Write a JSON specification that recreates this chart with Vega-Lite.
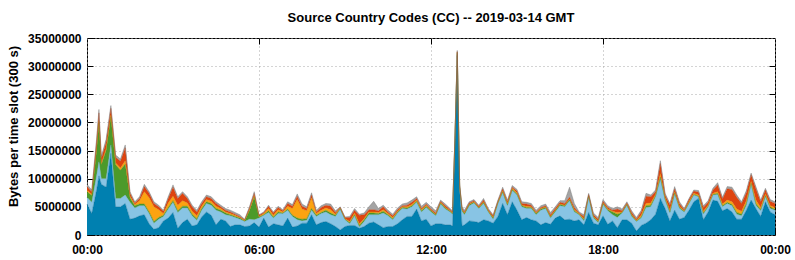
{
"$schema":"https://vega.github.io/schema/vega-lite/v6.json",
"width":688,"height":197,
"autosize":{"type":"none"},
"padding":{"left":87,"top":38,"right":20,"bottom":25},
"background":"white",
"title":{"text":"Source Country Codes (CC) -- 2019-03-14 GMT","font":"Liberation Sans","fontSize":13,"fontWeight":"bold","color":"black","anchor":"middle","offset":7},
"config":{"view":{"stroke":"black","strokeWidth":1},"axis":{"labelFont":"Liberation Sans","labelFontSize":12,"labelFontWeight":"bold","labelColor":"black","titleFont":"Liberation Sans","titleFontSize":13,"titleFontWeight":"bold","titleColor":"black","tickColor":"black","domain":false}},
"data":{"values":[
{"t":"2019-03-14T00:00","cc6":5500000,"cc5":1200000,"cc4":1000000,"cc3":300000,"cc2":600000,"cc1":400000},
{"t":"2019-03-14T00:10","cc6":3800000,"cc5":2000000,"cc4":1200000,"cc3":200000,"cc2":500000,"cc1":300000},
{"t":"2019-03-14T00:20","cc6":8000000,"cc5":2500000,"cc4":4500000,"cc3":300000,"cc2":1200000,"cc1":500000},
{"t":"2019-03-14T00:25","cc6":10500000,"cc5":2500000,"cc4":7000000,"cc3":300000,"cc2":1400000,"cc1":600000},
{"t":"2019-03-14T00:30","cc6":9000000,"cc5":1000000,"cc4":2500000,"cc3":200000,"cc2":900000,"cc1":400000},
{"t":"2019-03-14T00:40","cc6":8500000,"cc5":1500000,"cc4":5000000,"cc3":300000,"cc2":1200000,"cc1":500000},
{"t":"2019-03-14T00:50","cc6":14500000,"cc5":1500000,"cc4":5000000,"cc3":300000,"cc2":1200000,"cc1":500000},
{"t":"2019-03-14T01:00","cc6":5000000,"cc5":1500000,"cc4":6000000,"cc3":300000,"cc2":1000000,"cc1":400000},
{"t":"2019-03-14T01:10","cc6":5000000,"cc5":1500000,"cc4":5000000,"cc3":400000,"cc2":1200000,"cc1":400000},
{"t":"2019-03-14T01:20","cc6":5600000,"cc5":1500000,"cc4":5500000,"cc3":600000,"cc2":2300000,"cc1":500000},
{"t":"2019-03-14T01:30","cc6":2800000,"cc5":3000000,"cc4":800000,"cc3":300000,"cc2":500000,"cc1":300000},
{"t":"2019-03-14T01:40","cc6":3000000,"cc5":1800000,"cc4":400000,"cc3":200000,"cc2":300000,"cc1":200000},
{"t":"2019-03-14T01:50","cc6":3400000,"cc5":1800000,"cc4":300000,"cc3":600000,"cc2":400000,"cc1":300000},
{"t":"2019-03-14T02:00","cc6":3600000,"cc5":1600000,"cc4":300000,"cc3":2200000,"cc2":900000,"cc1":400000},
{"t":"2019-03-14T02:10","cc6":2000000,"cc5":1800000,"cc4":300000,"cc3":2500000,"cc2":800000,"cc1":300000},
{"t":"2019-03-14T02:20","cc6":1000000,"cc5":1100000,"cc4":300000,"cc3":2600000,"cc2":600000,"cc1":300000},
{"t":"2019-03-14T02:30","cc6":1300000,"cc5":1500000,"cc4":300000,"cc3":1400000,"cc2":500000,"cc1":300000},
{"t":"2019-03-14T02:40","cc6":2500000,"cc5":800000,"cc4":200000,"cc3":300000,"cc2":400000,"cc1":200000},
{"t":"2019-03-14T02:50","cc6":3000000,"cc5":1600000,"cc4":300000,"cc3":800000,"cc2":800000,"cc1":300000},
{"t":"2019-03-14T03:00","cc6":4000000,"cc5":1800000,"cc4":300000,"cc3":800000,"cc2":1600000,"cc1":400000},
{"t":"2019-03-14T03:10","cc6":1200000,"cc5":2800000,"cc4":300000,"cc3":1000000,"cc2":1200000,"cc1":300000},
{"t":"2019-03-14T03:20","cc6":2200000,"cc5":2600000,"cc4":300000,"cc3":1000000,"cc2":1300000,"cc1":300000},
{"t":"2019-03-14T03:30","cc6":2800000,"cc5":2000000,"cc4":300000,"cc3":600000,"cc2":800000,"cc1":300000},
{"t":"2019-03-14T03:40","cc6":1600000,"cc5":1800000,"cc4":300000,"cc3":500000,"cc2":800000,"cc1":300000},
{"t":"2019-03-14T03:50","cc6":1800000,"cc5":800000,"cc4":300000,"cc3":500000,"cc2":700000,"cc1":300000},
{"t":"2019-03-14T04:00","cc6":3200000,"cc5":1200000,"cc4":300000,"cc3":400000,"cc2":500000,"cc1":300000},
{"t":"2019-03-14T04:10","cc6":4100000,"cc5":1500000,"cc4":300000,"cc3":400000,"cc2":500000,"cc1":300000},
{"t":"2019-03-14T04:20","cc6":3500000,"cc5":1800000,"cc4":300000,"cc3":400000,"cc2":500000,"cc1":300000},
{"t":"2019-03-14T04:30","cc6":1800000,"cc5":2600000,"cc4":300000,"cc3":400000,"cc2":500000,"cc1":300000},
{"t":"2019-03-14T04:40","cc6":2800000,"cc5":1300000,"cc4":300000,"cc3":300000,"cc2":300000,"cc1":300000},
{"t":"2019-03-14T04:50","cc6":2500000,"cc5":1100000,"cc4":300000,"cc3":200000,"cc2":300000,"cc1":300000},
{"t":"2019-03-14T05:00","cc6":1500000,"cc5":1900000,"cc4":200000,"cc3":200000,"cc2":300000,"cc1":300000},
{"t":"2019-03-14T05:10","cc6":1800000,"cc5":1300000,"cc4":200000,"cc3":200000,"cc2":200000,"cc1":300000},
{"t":"2019-03-14T05:20","cc6":1800000,"cc5":1000000,"cc4":200000,"cc3":100000,"cc2":200000,"cc1":300000},
{"t":"2019-03-14T05:30","cc6":1500000,"cc5":900000,"cc4":100000,"cc3":100000,"cc2":100000,"cc1":100000},
{"t":"2019-03-14T05:40","cc6":1600000,"cc5":1200000,"cc4":1500000,"cc3":200000,"cc2":300000,"cc1":200000},
{"t":"2019-03-14T05:50","cc6":2200000,"cc5":500000,"cc4":4000000,"cc3":300000,"cc2":400000,"cc1":300000},
{"t":"2019-03-14T06:00","cc6":1400000,"cc5":1600000,"cc4":200000,"cc3":100000,"cc2":200000,"cc1":100000},
{"t":"2019-03-14T06:10","cc6":3000000,"cc5":500000,"cc4":100000,"cc3":200000,"cc2":200000,"cc1":100000},
{"t":"2019-03-14T06:20","cc6":1400000,"cc5":2600000,"cc4":300000,"cc3":400000,"cc2":400000,"cc1":200000},
{"t":"2019-03-14T06:30","cc6":2000000,"cc5":1000000,"cc4":200000,"cc3":300000,"cc2":400000,"cc1":200000},
{"t":"2019-03-14T06:40","cc6":1800000,"cc5":2000000,"cc4":300000,"cc3":400000,"cc2":400000,"cc1":200000},
{"t":"2019-03-14T06:50","cc6":1600000,"cc5":2200000,"cc4":100000,"cc3":200000,"cc2":200000,"cc1":200000},
{"t":"2019-03-14T07:00","cc6":3000000,"cc5":1400000,"cc4":200000,"cc3":500000,"cc2":500000,"cc1":300000},
{"t":"2019-03-14T07:10","cc6":1400000,"cc5":1900000,"cc4":200000,"cc3":1200000,"cc2":400000,"cc1":300000},
{"t":"2019-03-14T07:20","cc6":1600000,"cc5":1100000,"cc4":300000,"cc3":3300000,"cc2":600000,"cc1":400000},
{"t":"2019-03-14T07:30","cc6":2100000,"cc5":400000,"cc4":300000,"cc3":1800000,"cc2":500000,"cc1":400000},
{"t":"2019-03-14T07:40","cc6":2100000,"cc5":500000,"cc4":300000,"cc3":1400000,"cc2":400000,"cc1":300000},
{"t":"2019-03-14T07:50","cc6":3600000,"cc5":800000,"cc4":300000,"cc3":1900000,"cc2":500000,"cc1":400000},
{"t":"2019-03-14T08:00","cc6":1800000,"cc5":1500000,"cc4":200000,"cc3":300000,"cc2":300000,"cc1":300000},
{"t":"2019-03-14T08:10","cc6":2200000,"cc5":1600000,"cc4":200000,"cc3":400000,"cc2":500000,"cc1":300000},
{"t":"2019-03-14T08:20","cc6":2400000,"cc5":1700000,"cc4":300000,"cc3":400000,"cc2":500000,"cc1":300000},
{"t":"2019-03-14T08:30","cc6":2000000,"cc5":1600000,"cc4":300000,"cc3":600000,"cc2":600000,"cc1":400000},
{"t":"2019-03-14T08:40","cc6":1500000,"cc5":1800000,"cc4":200000,"cc3":200000,"cc2":300000,"cc1":300000},
{"t":"2019-03-14T08:50","cc6":900000,"cc5":3700000,"cc4":100000,"cc3":100000,"cc2":100000,"cc1":100000},
{"t":"2019-03-14T09:00","cc6":1500000,"cc5":1200000,"cc4":100000,"cc3":100000,"cc2":200000,"cc1":100000},
{"t":"2019-03-14T09:10","cc6":1700000,"cc5":300000,"cc4":200000,"cc3":200000,"cc2":700000,"cc1":200000},
{"t":"2019-03-14T09:20","cc6":1700000,"cc5":1700000,"cc4":200000,"cc3":300000,"cc2":500000,"cc1":300000},
{"t":"2019-03-14T09:30","cc6":1200000,"cc5":200000,"cc4":300000,"cc3":300000,"cc2":1500000,"cc1":200000},
{"t":"2019-03-14T09:40","cc6":1500000,"cc5":900000,"cc4":300000,"cc3":200000,"cc2":700000,"cc1":300000},
{"t":"2019-03-14T09:50","cc6":2100000,"cc5":1500000,"cc4":300000,"cc3":200000,"cc2":400000,"cc1":500000},
{"t":"2019-03-14T10:00","cc6":2300000,"cc5":1300000,"cc4":300000,"cc3":200000,"cc2":400000,"cc1":1500000},
{"t":"2019-03-14T10:10","cc6":1800000,"cc5":1800000,"cc4":200000,"cc3":200000,"cc2":300000,"cc1":400000},
{"t":"2019-03-14T10:20","cc6":1300000,"cc5":2600000,"cc4":300000,"cc3":300000,"cc2":500000,"cc1":300000},
{"t":"2019-03-14T10:30","cc6":1500000,"cc5":1900000,"cc4":200000,"cc3":200000,"cc2":300000,"cc1":300000},
{"t":"2019-03-14T10:40","cc6":1500000,"cc5":1200000,"cc4":200000,"cc3":200000,"cc2":300000,"cc1":300000},
{"t":"2019-03-14T10:50","cc6":2000000,"cc5":1900000,"cc4":200000,"cc3":100000,"cc2":300000,"cc1":300000},
{"t":"2019-03-14T11:00","cc6":2700000,"cc5":2000000,"cc4":200000,"cc3":100000,"cc2":200000,"cc1":300000},
{"t":"2019-03-14T11:10","cc6":3300000,"cc5":1300000,"cc4":200000,"cc3":200000,"cc2":300000,"cc1":400000},
{"t":"2019-03-14T11:20","cc6":3300000,"cc5":1700000,"cc4":200000,"cc3":200000,"cc2":400000,"cc1":400000},
{"t":"2019-03-14T11:30","cc6":4600000,"cc5":1200000,"cc4":200000,"cc3":200000,"cc2":300000,"cc1":300000},
{"t":"2019-03-14T11:40","cc6":2500000,"cc5":1600000,"cc4":200000,"cc3":200000,"cc2":200000,"cc1":400000},
{"t":"2019-03-14T11:50","cc6":2800000,"cc5":2100000,"cc4":200000,"cc3":200000,"cc2":200000,"cc1":300000},
{"t":"2019-03-14T12:00","cc6":1600000,"cc5":2500000,"cc4":200000,"cc3":100000,"cc2":200000,"cc1":400000},
{"t":"2019-03-14T12:10","cc6":2000000,"cc5":1400000,"cc4":200000,"cc3":100000,"cc2":200000,"cc1":400000},
{"t":"2019-03-14T12:20","cc6":2000000,"cc5":3500000,"cc4":200000,"cc3":100000,"cc2":200000,"cc1":200000},
{"t":"2019-03-14T12:30","cc6":1800000,"cc5":2800000,"cc4":200000,"cc3":100000,"cc2":300000,"cc1":300000},
{"t":"2019-03-14T12:40","cc6":1800000,"cc5":2300000,"cc4":100000,"cc3":100000,"cc2":200000,"cc1":200000},
{"t":"2019-03-14T12:45","cc6":1600000,"cc5":2100000,"cc4":100000,"cc3":100000,"cc2":200000,"cc1":200000},
{"t":"2019-03-14T12:50","cc6":16200000,"cc5":400000,"cc4":100000,"cc3":100000,"cc2":100000,"cc1":100000},
{"t":"2019-03-14T12:55","cc6":31900000,"cc5":300000,"cc4":200000,"cc3":100000,"cc2":100000,"cc1":200000},
{"t":"2019-03-14T13:00","cc6":8000000,"cc5":500000,"cc4":100000,"cc3":100000,"cc2":100000,"cc1":200000},
{"t":"2019-03-14T13:05","cc6":1600000,"cc5":2600000,"cc4":200000,"cc3":100000,"cc2":200000,"cc1":300000},
{"t":"2019-03-14T13:10","cc6":1800000,"cc5":1800000,"cc4":200000,"cc3":100000,"cc2":200000,"cc1":300000},
{"t":"2019-03-14T13:20","cc6":2500000,"cc5":2700000,"cc4":200000,"cc3":100000,"cc2":200000,"cc1":200000},
{"t":"2019-03-14T13:30","cc6":2400000,"cc5":3300000,"cc4":100000,"cc3":100000,"cc2":200000,"cc1":200000},
{"t":"2019-03-14T13:40","cc6":2200000,"cc5":2500000,"cc4":100000,"cc3":100000,"cc2":200000,"cc1":200000},
{"t":"2019-03-14T13:50","cc6":2700000,"cc5":2900000,"cc4":200000,"cc3":100000,"cc2":300000,"cc1":300000},
{"t":"2019-03-14T14:00","cc6":2500000,"cc5":1600000,"cc4":100000,"cc3":100000,"cc2":200000,"cc1":200000},
{"t":"2019-03-14T14:10","cc6":2100000,"cc5":700000,"cc4":200000,"cc3":100000,"cc2":300000,"cc1":200000},
{"t":"2019-03-14T14:20","cc6":3300000,"cc5":2300000,"cc4":100000,"cc3":100000,"cc2":200000,"cc1":200000},
{"t":"2019-03-14T14:30","cc6":5600000,"cc5":1900000,"cc4":200000,"cc3":200000,"cc2":300000,"cc1":300000},
{"t":"2019-03-14T14:40","cc6":3600000,"cc5":1600000,"cc4":200000,"cc3":200000,"cc2":300000,"cc1":300000},
{"t":"2019-03-14T14:50","cc6":5900000,"cc5":2000000,"cc4":200000,"cc3":200000,"cc2":200000,"cc1":300000},
{"t":"2019-03-14T15:00","cc6":4400000,"cc5":2700000,"cc4":200000,"cc3":200000,"cc2":300000,"cc1":300000},
{"t":"2019-03-14T15:10","cc6":2700000,"cc5":2300000,"cc4":200000,"cc3":100000,"cc2":300000,"cc1":300000},
{"t":"2019-03-14T15:20","cc6":3100000,"cc5":1600000,"cc4":200000,"cc3":200000,"cc2":400000,"cc1":300000},
{"t":"2019-03-14T15:30","cc6":2700000,"cc5":2000000,"cc4":200000,"cc3":100000,"cc2":300000,"cc1":300000},
{"t":"2019-03-14T15:40","cc6":2500000,"cc5":1100000,"cc4":200000,"cc3":100000,"cc2":200000,"cc1":300000},
{"t":"2019-03-14T15:50","cc6":1800000,"cc5":2600000,"cc4":200000,"cc3":100000,"cc2":200000,"cc1":300000},
{"t":"2019-03-14T16:00","cc6":2200000,"cc5":2500000,"cc4":200000,"cc3":100000,"cc2":200000,"cc1":300000},
{"t":"2019-03-14T16:10","cc6":1900000,"cc5":1100000,"cc4":200000,"cc3":100000,"cc2":300000,"cc1":400000},
{"t":"2019-03-14T16:20","cc6":3000000,"cc5":1100000,"cc4":200000,"cc3":100000,"cc2":300000,"cc1":300000},
{"t":"2019-03-14T16:30","cc6":3400000,"cc5":1800000,"cc4":200000,"cc3":100000,"cc2":300000,"cc1":300000},
{"t":"2019-03-14T16:40","cc6":2700000,"cc5":2300000,"cc4":200000,"cc3":100000,"cc2":300000,"cc1":500000},
{"t":"2019-03-14T16:50","cc6":2800000,"cc5":3300000,"cc4":200000,"cc3":100000,"cc2":300000,"cc1":1800000},
{"t":"2019-03-14T17:00","cc6":2500000,"cc5":1600000,"cc4":200000,"cc3":200000,"cc2":400000,"cc1":700000},
{"t":"2019-03-14T17:10","cc6":2700000,"cc5":900000,"cc4":100000,"cc3":100000,"cc2":100000,"cc1":200000},
{"t":"2019-03-14T17:20","cc6":1800000,"cc5":700000,"cc4":200000,"cc3":200000,"cc2":400000,"cc1":300000},
{"t":"2019-03-14T17:30","cc6":4000000,"cc5":2800000,"cc4":100000,"cc3":100000,"cc2":200000,"cc1":200000},
{"t":"2019-03-14T17:40","cc6":2100000,"cc5":900000,"cc4":200000,"cc3":100000,"cc2":300000,"cc1":300000},
{"t":"2019-03-14T17:50","cc6":1800000,"cc5":400000,"cc4":200000,"cc3":100000,"cc2":300000,"cc1":300000},
{"t":"2019-03-14T18:00","cc6":3400000,"cc5":2000000,"cc4":200000,"cc3":100000,"cc2":300000,"cc1":300000},
{"t":"2019-03-14T18:10","cc6":1900000,"cc5":2400000,"cc4":200000,"cc3":100000,"cc2":300000,"cc1":300000},
{"t":"2019-03-14T18:20","cc6":2500000,"cc5":1100000,"cc4":500000,"cc3":100000,"cc2":200000,"cc1":300000},
{"t":"2019-03-14T18:30","cc6":1300000,"cc5":1800000,"cc4":600000,"cc3":300000,"cc2":600000,"cc1":400000},
{"t":"2019-03-14T18:40","cc6":2700000,"cc5":1200000,"cc4":100000,"cc3":100000,"cc2":200000,"cc1":300000},
{"t":"2019-03-14T18:50","cc6":2700000,"cc5":2600000,"cc4":100000,"cc3":100000,"cc2":200000,"cc1":200000},
{"t":"2019-03-14T19:00","cc6":2100000,"cc5":1200000,"cc4":200000,"cc3":100000,"cc2":400000,"cc1":300000},
{"t":"2019-03-14T19:10","cc6":700000,"cc5":1700000,"cc4":100000,"cc3":100000,"cc2":200000,"cc1":300000},
{"t":"2019-03-14T19:20","cc6":1700000,"cc5":1300000,"cc4":200000,"cc3":300000,"cc2":600000,"cc1":300000},
{"t":"2019-03-14T19:30","cc6":2100000,"cc5":2800000,"cc4":300000,"cc3":400000,"cc2":1300000,"cc1":500000},
{"t":"2019-03-14T19:40","cc6":2700000,"cc5":2300000,"cc4":300000,"cc3":400000,"cc2":1100000,"cc1":300000},
{"t":"2019-03-14T19:50","cc6":3700000,"cc5":3100000,"cc4":200000,"cc3":200000,"cc2":500000,"cc1":300000},
{"t":"2019-03-14T20:00","cc6":6500000,"cc5":3400000,"cc4":400000,"cc3":600000,"cc2":1800000,"cc1":500000},
{"t":"2019-03-14T20:10","cc6":4700000,"cc5":1500000,"cc4":200000,"cc3":200000,"cc2":500000,"cc1":300000},
{"t":"2019-03-14T20:20","cc6":2500000,"cc5":1400000,"cc4":200000,"cc3":300000,"cc2":900000,"cc1":300000},
{"t":"2019-03-14T20:30","cc6":4400000,"cc5":2900000,"cc4":200000,"cc3":200000,"cc2":500000,"cc1":400000},
{"t":"2019-03-14T20:40","cc6":2800000,"cc5":1900000,"cc4":200000,"cc3":200000,"cc2":500000,"cc1":300000},
{"t":"2019-03-14T20:50","cc6":3100000,"cc5":1000000,"cc4":100000,"cc3":100000,"cc2":200000,"cc1":200000},
{"t":"2019-03-14T21:00","cc6":4400000,"cc5":1200000,"cc4":100000,"cc3":200000,"cc2":400000,"cc1":200000},
{"t":"2019-03-14T21:10","cc6":5900000,"cc5":1200000,"cc4":100000,"cc3":200000,"cc2":400000,"cc1":200000},
{"t":"2019-03-14T21:20","cc6":6500000,"cc5":300000,"cc4":100000,"cc3":200000,"cc2":500000,"cc1":300000},
{"t":"2019-03-14T21:30","cc6":2700000,"cc5":1000000,"cc4":200000,"cc3":300000,"cc2":700000,"cc1":300000},
{"t":"2019-03-14T21:40","cc6":4100000,"cc5":900000,"cc4":100000,"cc3":200000,"cc2":500000,"cc1":300000},
{"t":"2019-03-14T21:50","cc6":6200000,"cc5":900000,"cc4":100000,"cc3":200000,"cc2":600000,"cc1":300000},
{"t":"2019-03-14T22:00","cc6":6000000,"cc5":1200000,"cc4":200000,"cc3":300000,"cc2":1200000,"cc1":400000},
{"t":"2019-03-14T22:10","cc6":4300000,"cc5":700000,"cc4":200000,"cc3":300000,"cc2":900000,"cc1":300000},
{"t":"2019-03-14T22:20","cc6":4700000,"cc5":900000,"cc4":200000,"cc3":400000,"cc2":2000000,"cc1":400000},
{"t":"2019-03-14T22:30","cc6":4100000,"cc5":1100000,"cc4":200000,"cc3":500000,"cc2":2200000,"cc1":400000},
{"t":"2019-03-14T22:40","cc6":2800000,"cc5":900000,"cc4":300000,"cc3":600000,"cc2":2100000,"cc1":400000},
{"t":"2019-03-14T22:50","cc6":2800000,"cc5":600000,"cc4":300000,"cc3":500000,"cc2":1400000,"cc1":300000},
{"t":"2019-03-14T23:00","cc6":4400000,"cc5":900000,"cc4":300000,"cc3":500000,"cc2":1400000,"cc1":400000},
{"t":"2019-03-14T23:10","cc6":6200000,"cc5":2800000,"cc4":200000,"cc3":300000,"cc2":1200000,"cc1":300000},
{"t":"2019-03-14T23:20","cc6":4700000,"cc5":600000,"cc4":300000,"cc3":600000,"cc2":2000000,"cc1":400000},
{"t":"2019-03-14T23:30","cc6":3300000,"cc5":1000000,"cc4":200000,"cc3":400000,"cc2":1000000,"cc1":300000},
{"t":"2019-03-14T23:40","cc6":5900000,"cc5":900000,"cc4":200000,"cc3":300000,"cc2":700000,"cc1":300000},
{"t":"2019-03-14T23:50","cc6":4100000,"cc5":600000,"cc4":200000,"cc3":300000,"cc2":800000,"cc1":300000},
{"t":"2019-03-15T00:00","cc6":3600000,"cc5":800000,"cc4":200000,"cc3":300000,"cc2":700000,"cc1":300000}
]},
"transform":[{"fold":["cc6","cc5","cc4","cc3","cc2","cc1"],"as":["cc","bytes"]}],
"layer":[
{"mark":{"type":"area","interpolate":"linear"},
 "encoding":{
  "x":{"field":"t","type":"temporal","title":null,
   "scale":{"domain":[{"year":2019,"month":3,"date":14,"hours":0},{"year":2019,"month":3,"date":15,"hours":0}]},
   "axis":{"values":[{"year":2019,"month":3,"date":14,"hours":0},{"year":2019,"month":3,"date":14,"hours":6},{"year":2019,"month":3,"date":14,"hours":12},{"year":2019,"month":3,"date":14,"hours":18},{"year":2019,"month":3,"date":15,"hours":0}],
    "format":"%H:%M","labelFlush":false,"labelOverlap":false,"grid":true,"gridColor":"#a8a8a8","gridDash":[1,3],"tickSize":-6,"labelPadding":15}},
  "y":{"field":"bytes","type":"quantitative","stack":"zero","title":"Bytes per time slot (300 s)",
   "scale":{"domain":[0,35000000],"nice":false},
   "axis":{"values":[0,5000000,10000000,15000000,20000000,25000000,30000000,35000000],"format":"d","grid":true,"gridColor":"#a8a8a8","gridDash":[1,3],"tickSize":-6,"labelPadding":12,"titlePadding":7,"titleY":88}},
  "color":{"field":"cc","type":"nominal","legend":null,
   "scale":{"domain":["cc6","cc5","cc4","cc3","cc2","cc1"],"range":["#0080b0","#88c4e4","#4c9a2a","#fca311","#de4410","#a4a4a4"]}}
 }},
{"mark":{"type":"line","strokeWidth":0.5,"strokeOpacity":0.8,"interpolate":"linear"},
 "encoding":{
  "x":{"field":"t","type":"temporal","title":null,
   "axis":{"orient":"top","labels":false,"grid":false,"tickSize":-6,"values":[{"year":2019,"month":3,"date":14,"hours":6},{"year":2019,"month":3,"date":14,"hours":12},{"year":2019,"month":3,"date":14,"hours":18}]}},
  "y":{"field":"bytes","type":"quantitative","stack":"zero","title":null,
   "axis":{"orient":"right","labels":false,"grid":false,"tickSize":-6,"values":[5000000,10000000,15000000,20000000,25000000,30000000]}},
  "color":{"field":"cc","type":"nominal","legend":null,
   "scale":{"domain":["cc6","cc5","cc4","cc3","cc2","cc1"],"range":["#006690","#6aa8cc","#3a8424","#d88c00","#c03808","#707070"]}}
 }}
],
"resolve":{"scale":{"color":"independent"},"axis":{"x":"independent","y":"independent"}}
}
